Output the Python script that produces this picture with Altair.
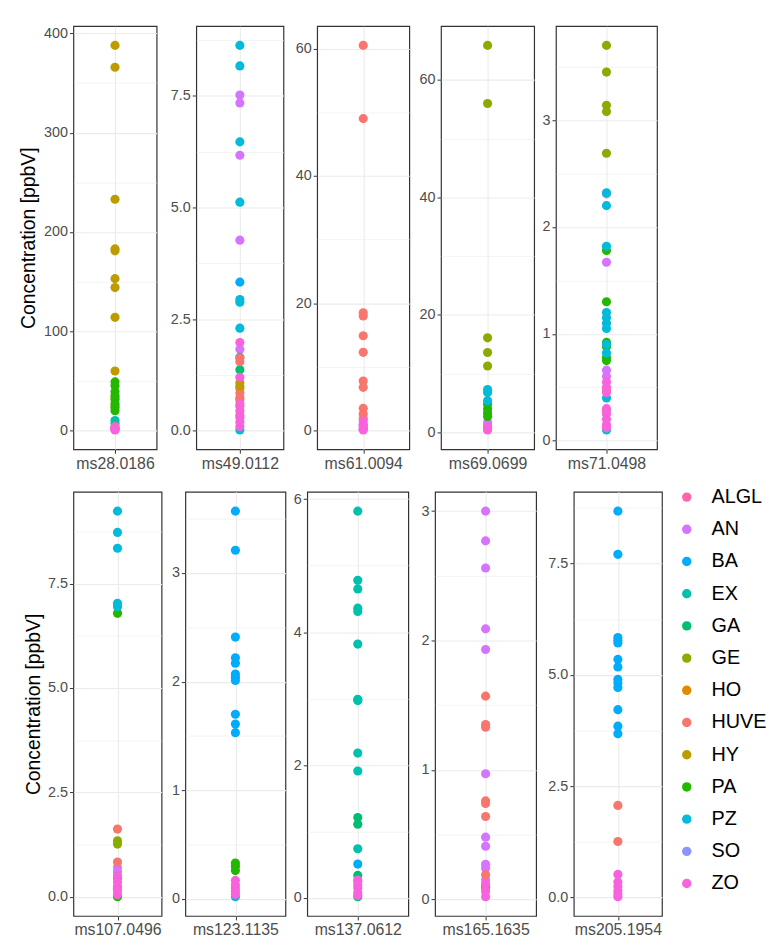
import math
import altair as alt
import pandas as pd

# ---- categories & colours ----
groups = ["ALGL", "AN", "BA", "EX", "GA", "GE", "HO", "HUVE", "HY", "PA", "PZ", "SO", "ZO"]
colors = ["#FF65AC", "#D575FE", "#00ACFC", "#00C1AB", "#00BE70", "#8CAB00", "#E18A00",
          "#F8766D", "#BE9C00", "#24B700", "#00BBDA", "#8B93FF", "#F962DD"]

# ---- data per compound: (group, concentration ppbV) ----
ms28_0186 = [("HY", 388), ("HY", 366), ("HY", 233), ("HY", 183), ("HY", 181), ("HY", 153),
             ("HY", 144), ("HY", 114), ("HY", 60), ("PA", 49), ("PA", 45), ("PA", 39),
             ("PA", 35), ("PA", 31), ("PA", 27), ("PA", 23), ("PA", 20), ("HO", 25), ("HO", 33),
             ("EX", 10), ("EX", 7), ("ZO", 3), ("ZO", 1), ("ZO", 0.5), ("ZO", 2),
             ("HUVE", 4), ("AN", 1.5)]
ms49_0112 = [("PZ", 8.63), ("PZ", 8.17), ("PZ", 6.47), ("PZ", 5.12), ("PZ", 2.94), ("PZ", 2.88),
             ("PZ", 2.30), ("PZ", 0.02), ("BA", 3.33), ("AN", 7.52), ("AN", 7.34), ("AN", 6.17),
             ("AN", 4.27), ("AN", 1.83), ("ZO", 1.98), ("ZO", 1.20), ("ZO", 0.6), ("ZO", 0.45),
             ("ZO", 0.3), ("ZO", 0.2), ("ZO", 0.1), ("HUVE", 1.63), ("HUVE", 1.55), ("HUVE", 0.95),
             ("HUVE", 0.85), ("HUVE", 0.75), ("HUVE", 0.55), ("HUVE", 0.35), ("GA", 1.65),
             ("GA", 1.37), ("HY", 1.08), ("HY", 1.0), ("HO", 0.7)]
ms61_0094 = [("HUVE", 60.5), ("HUVE", 49.0), ("HUVE", 18.5), ("HUVE", 18.0), ("HUVE", 14.9),
             ("HUVE", 12.3), ("HUVE", 7.8), ("HUVE", 6.8), ("HUVE", 3.5), ("HUVE", 2.6),
             ("HUVE", 1.9), ("ZO", 1.5), ("ZO", 1.0), ("ZO", 0.6), ("ZO", 0.3), ("ZO", 0.1),
             ("AN", 0.8), ("AN", 0.2)]
ms69_0699 = [("GE", 65.9), ("GE", 56.0), ("GE", 16.1), ("GE", 13.6), ("GE", 11.3), ("PZ", 7.3),
             ("PZ", 6.8), ("PZ", 5.4), ("PA", 4.8), ("PA", 4.0), ("PA", 3.3), ("PA", 2.7),
             ("AN", 1.7), ("AN", 1.2), ("ZO", 0.9), ("ZO", 0.4), ("HUVE", 0.6)]
ms71_0498 = [("GE", 3.70), ("GE", 3.45), ("GE", 3.14), ("GE", 3.08), ("GE", 2.69), ("PZ", 2.32),
             ("PZ", 2.20), ("PZ", 1.82), ("PZ", 1.20), ("PZ", 1.15), ("PZ", 1.10), ("PZ", 1.05),
             ("PZ", 0.90), ("PZ", 0.82), ("PZ", 0.40), ("PZ", 0.10), ("AN", 2.31), ("AN", 1.67),
             ("AN", 0.66), ("AN", 0.60), ("PA", 1.78), ("PA", 1.30), ("PA", 0.92), ("PA", 0.88),
             ("PA", 0.78), ("PA", 0.75), ("ZO", 0.55), ("ZO", 0.50), ("ZO", 0.45), ("ZO", 0.30),
             ("ZO", 0.25), ("ZO", 0.20), ("ZO", 0.15), ("ZO", 0.12), ("HUVE", 0.47), ("HUVE", 0.28)]
ms107_0496 = [("PZ", 9.24), ("PZ", 8.73), ("PZ", 8.35), ("PZ", 7.03), ("PZ", 6.95), ("PZ", 0.45),
              ("PA", 6.79), ("PA", 0.0), ("HUVE", 1.62), ("HUVE", 0.83), ("HUVE", 0.2),
              ("GE", 1.34), ("GE", 1.26), ("AN", 0.7), ("AN", 0.6), ("ZO", 0.5), ("ZO", 0.35),
              ("ZO", 0.25), ("ZO", 0.15), ("ZO", 0.05)]
ms123_1135 = [("BA", 3.57), ("BA", 3.21), ("BA", 2.41), ("BA", 2.22), ("BA", 2.17), ("BA", 2.07),
              ("BA", 2.04), ("BA", 2.01), ("BA", 1.70), ("BA", 1.61), ("BA", 1.53), ("PA", 0.33),
              ("PA", 0.30), ("PA", 0.26), ("ZO", 0.17), ("ZO", 0.13), ("ZO", 0.10), ("ZO", 0.07),
              ("ZO", 0.04), ("PZ", 0.02)]
ms137_0612 = [("EX", 5.82), ("EX", 4.78), ("EX", 4.65), ("EX", 4.36), ("EX", 4.31), ("EX", 3.82),
              ("EX", 2.99), ("EX", 2.97), ("EX", 2.18), ("EX", 1.91), ("EX", 0.74), ("GA", 1.21),
              ("GA", 1.11), ("GA", 0.34), ("GA", 0.02), ("BA", 0.51), ("ZO", 0.27), ("ZO", 0.20),
              ("ZO", 0.15), ("ZO", 0.08), ("ZO", 0.04), ("HUVE", 0.25)]
ms165_1635 = [("AN", 3.00), ("AN", 2.77), ("AN", 2.56), ("AN", 2.09), ("AN", 1.93), ("AN", 0.97),
              ("AN", 0.48), ("AN", 0.41), ("AN", 0.27), ("AN", 0.24), ("AN", 0.15), ("AN", 0.10),
              ("HUVE", 1.57), ("HUVE", 1.35), ("HUVE", 1.33), ("HUVE", 0.76), ("HUVE", 0.74),
              ("HUVE", 0.64), ("HUVE", 0.19), ("HO", 0.09), ("GA", 0.09), ("ZO", 0.12),
              ("ZO", 0.06), ("ZO", 0.02)]
ms205_1954 = [("BA", 8.68), ("BA", 7.71), ("BA", 5.84), ("BA", 5.78), ("BA", 5.72), ("BA", 5.35),
              ("BA", 5.18), ("BA", 4.90), ("BA", 4.82), ("BA", 4.72), ("BA", 4.22), ("BA", 3.85),
              ("BA", 3.68), ("HUVE", 2.07), ("HUVE", 1.26), ("ZO", 0.52), ("ZO", 0.35),
              ("ZO", 0.25), ("ZO", 0.15), ("ZO", 0.08), ("ZO", 0.02)]

y_title = "Concentration [ppbV]"
FONT = "Liberation Sans"
color_scale = alt.Scale(domain=groups, range=colors)


def panel(name, pts, width, height, extent, major, fmt, title=False, title_pad=2):
    df = pd.DataFrame(pts, columns=["group", "value"])
    df["order"] = df["group"].map({g: i for i, g in enumerate(groups)})
    df = df.sort_values("order", kind="stable")
    df["compound"] = name
    vmin, vmax = df["value"].min(), df["value"].max()
    r = vmax - vmin
    lo, hi = vmin - 0.05 * r, vmax + 0.05 * r
    minor = major / 2
    vals = [round(k * minor, 6) for k in range(math.ceil(lo / minor), math.floor(hi / minor) + 1)]
    test = f"abs(datum.value/{major} - round(datum.value/{major})) < 1e-6"
    axis_kw = dict(
        values=vals,
        labelExpr=f"{test} ? format(datum.value, '{fmt}') : ''",
        labelFontSize=14.5, labelColor="#4D4D4D", labelPadding=2, labelOverlap=False,
        labelFlush=False,
        tickColor="#333333", tickSize=4,
        tickOpacity={"condition": {"test": test, "value": 1}, "value": 0},
        domain=False, grid=True, gridColor="#EBEBEB",
        gridWidth={"condition": {"test": test, "value": 1.1}, "value": 0.55},
        minExtent=extent, maxExtent=extent,
    )
    if title:
        axis_kw.update(title=y_title, titleFontSize=19.5, titleColor="black",
                       titleFontWeight="normal", titlePadding=title_pad, titleFont=FONT)
    y = alt.Y("value:Q", scale=alt.Scale(domain=[lo, hi], nice=False, zero=False),
              axis=alt.Axis(**axis_kw), title=y_title if title else None)
    x = alt.X("compound:N", title=None, scale=alt.Scale(type="point"),
              axis=alt.Axis(labelAngle=0, labelFontSize=16, labelColor="#4D4D4D",
                            labelPadding=2, tickColor="#333333", tickSize=4, domain=False,
                            grid=True, gridColor="#EBEBEB", gridWidth=1.1,
                            minExtent=21, maxExtent=21))
    return alt.Chart(df).mark_circle(size=85, opacity=1).encode(
        x=x, y=y,
        color=alt.Color("group:N", scale=color_scale, legend=None),
    ).properties(width=width, height=height)


top = alt.hconcat(
    panel("ms28.0186", ms28_0186, 84, 427, 33, 100, "d", title=True, title_pad=2),
    panel("ms49.0112", ms49_0112, 88, 427, 38, 2.5, ".1f"),
    panel("ms61.0094", ms61_0094, 93, 427, 32, 20, "d"),
    panel("ms69.0699", ms69_0699, 94, 427, 30, 20, "d"),
    panel("ms71.0498", ms71_0498, 102, 427, 20, 1, "d"),
    spacing=0,
)

leg_df = pd.DataFrame({"group": groups})
leg_base = alt.Chart(leg_df).encode(
    y=alt.Y("group:N", sort=groups, axis=None,
            scale=alt.Scale(type="point", range=[5.3, 395.3], padding=0)))
leg_dots = leg_base.mark_circle(size=90, opacity=1).encode(
    x=alt.value(24), color=alt.Color("group:N", scale=color_scale, legend=None))
leg_text = leg_base.mark_text(align="left", baseline="middle", fontSize=20, color="black",
                              font=FONT).encode(x=alt.value(49), text="group:N")
legend = alt.layer(leg_dots, leg_text).properties(
    width=100, height=428, view=alt.ViewBackground(strokeOpacity=0))

bottom = alt.hconcat(
    panel("ms107.0496", ms107_0496, 89, 428, 29, 2.5, ".1f", title=True, title_pad=1),
    panel("ms123.1135", ms123_1135, 101, 428, 22, 1, "d"),
    panel("ms137.0612", ms137_0612, 102, 428, 20, 2, "d"),
    panel("ms165.1635", ms165_1635, 102, 428, 25, 1, "d"),
    panel("ms205.1954", ms205_1954, 89, 428, 36, 2.5, ".1f"),
    legend,
    spacing=0,
)

chart = alt.vconcat(top, bottom, spacing=15).properties(
    padding={"left": 10, "top": 12, "right": 0, "bottom": 0}
).configure(font=FONT).configure_view(stroke="#333333", strokeWidth=1.2)

chart.save("out.html", embed_options={"renderer": "svg", "actions": False})
